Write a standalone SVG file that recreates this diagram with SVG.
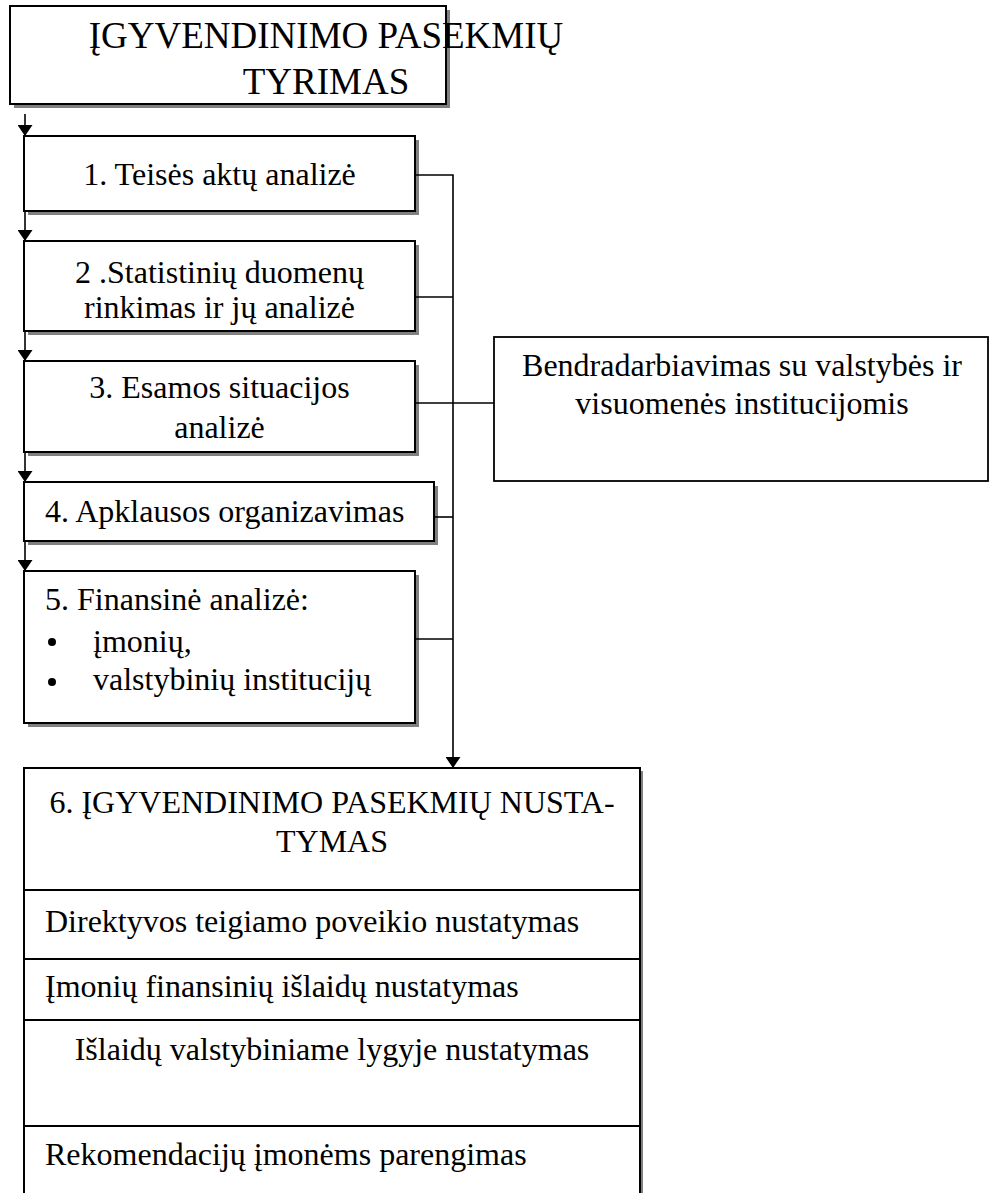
<svg xmlns="http://www.w3.org/2000/svg" width="989" height="1193" viewBox="0 0 989 1193">
<defs>
<marker id="ah" markerWidth="11" markerHeight="15" refX="11" refY="7.5" orient="auto" markerUnits="userSpaceOnUse" viewBox="0 0 11 15">
<path d="M0,0 L11,7.5 L0,15 Z" fill="#000"/>
</marker>
</defs>
<style>
.box{fill:#fff;stroke:#000;stroke-width:2}
.sh{fill:#808080}
.t{font-family:'Liberation Serif','Tinos','Times New Roman','DejaVu Serif',serif;font-size:32px;fill:#000}
.big{font-size:37px}
.c{text-anchor:middle}
.ln{fill:none;stroke:#000;stroke-width:1.6}
.dv{stroke:#000;stroke-width:2}
</style>
<rect width="989" height="1193" fill="#fff"/>

<g id="title">
<rect class="sh" x="14" y="10" width="436" height="98"/>
<rect class="box" x="10" y="6" width="436" height="98"/>
<text class="t c big" x="326" y="48">ĮGYVENDINIMO PASEKMIŲ</text>
<text class="t c big" x="326" y="94">TYRIMAS</text>
</g>

<g id="n1">
<rect class="sh" x="28" y="140" width="391" height="75"/>
<rect class="box" x="24" y="136" width="391" height="75"/>
<text class="t c" x="219.5" y="185">1. Teisės aktų analizė</text>
</g>

<g id="n2">
<rect class="sh" x="28" y="245" width="391" height="90"/>
<rect class="box" x="24" y="241" width="391" height="90"/>
<text class="t c" x="219.5" y="283">2 .Statistinių duomenų</text>
<text class="t c" x="219.5" y="318">rinkimas ir jų analizė</text>
</g>

<g id="n3">
<rect class="sh" x="28" y="365" width="391" height="91"/>
<rect class="box" x="24" y="361" width="391" height="91"/>
<text class="t c" x="219.5" y="398">3. Esamos situacijos</text>
<text class="t c" x="219.5" y="438">analizė</text>
</g>

<g id="n4">
<rect class="sh" x="28" y="486" width="410" height="59"/>
<rect class="box" x="24" y="482" width="410" height="59"/>
<text class="t" x="45" y="522">4. Apklausos organizavimas</text>
</g>

<g id="n5">
<rect class="sh" x="28" y="575" width="391" height="152"/>
<rect class="box" x="24" y="571" width="391" height="152"/>
<text class="t" x="45" y="610">5. Finansinė analizė:</text>
<circle cx="52" cy="642" r="4" fill="#000"/>
<text class="t" x="93" y="652">įmonių,</text>
<circle cx="52" cy="682" r="4" fill="#000"/>
<text class="t" x="93" y="690">valstybinių institucijų</text>
</g>

<g id="coop">
<rect class="box" x="494" y="337" width="494" height="144" style="stroke-width:1.8"/>
<text class="t c" x="742" y="376">Bendradarbiavimas su valstybės ir</text>
<text class="t c" x="742" y="414">visuomenės institucijomis</text>
</g>

<g id="n6">
<rect class="sh" x="640" y="771" width="3" height="430"/>
<rect class="box" x="24" y="768" width="616" height="440"/>
<text class="t c" x="332" y="813">6. ĮGYVENDINIMO PASEKMIŲ NUSTA-</text>
<text class="t c" x="332" y="852">TYMAS</text>
<line class="dv" x1="24" y1="890" x2="640" y2="890"/>
<text class="t" x="45" y="932">Direktyvos teigiamo poveikio nustatymas</text>
<line class="dv" x1="24" y1="959" x2="640" y2="959"/>
<text class="t" x="45" y="997">Įmonių finansinių išlaidų nustatymas</text>
<line class="dv" x1="24" y1="1020" x2="640" y2="1020"/>
<text class="t c" x="332" y="1060">Išlaidų valstybiniame lygyje nustatymas</text>
<line class="dv" x1="24" y1="1126" x2="640" y2="1126"/>
<text class="t" x="45" y="1165">Rekomendacijų įmonėms parengimas</text>
</g>

<g id="connectors">
<line class="ln" x1="25" y1="114" x2="25" y2="136" marker-end="url(#ah)"/>
<line class="ln" x1="25" y1="211" x2="25" y2="241" marker-end="url(#ah)"/>
<line class="ln" x1="25" y1="331" x2="25" y2="361" marker-end="url(#ah)"/>
<line class="ln" x1="25" y1="452" x2="25" y2="482" marker-end="url(#ah)"/>
<line class="ln" x1="25" y1="541" x2="25" y2="571" marker-end="url(#ah)"/>
<polyline class="ln" points="415,175 453,175 453,768" marker-end="url(#ah)"/>
<line class="ln" x1="415" y1="297" x2="453" y2="297"/>
<line class="ln" x1="415" y1="403" x2="494" y2="403"/>
<line class="ln" x1="434" y1="517" x2="453" y2="517"/>
<line class="ln" x1="415" y1="639" x2="453" y2="639"/>
</g>
</svg>
